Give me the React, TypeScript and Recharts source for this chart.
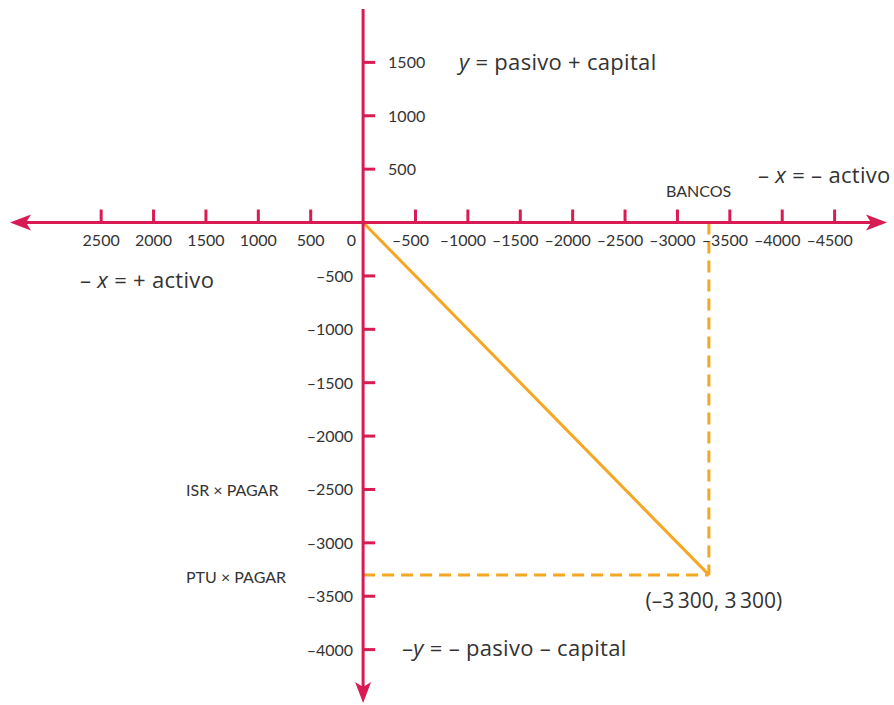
import React from "react";
import { LineChart, Line, XAxis, YAxis, ReferenceLine, ReferenceDot } from "recharts";

// valores del plano
const xTicks = [2500, 2000, 1500, 1000, 500, 0, -500, -1000, -1500, -2000, -2500, -3000, -3500, -4000, -4500];
const yTicks = [1500, 1000, 500, -500, -1000, -1500, -2000, -2500, -3000, -3500, -4000];
const bancosLine = [
  { x: 0, y: 0 },
  { x: -3300, y: -3300 },
];
const pointLabel = "(–3\u2009300, 3\u2009300)";

const AXIS = "#D81B52";
const ORANGE = "#F6A623";
const TEXT = "#333333";
const FONT = "Lato, 'Open Sans', sans-serif";
const BIG = "'Open Sans', Lato, sans-serif";

const W = 894;
const H = 705;

const fmt = (v: number) => (v < 0 ? "–" + Math.abs(v) : String(v));

const corner = bancosLine[bancosLine.length - 1];

function XTick(v: number) {
  return (p: any) => {
    const { cx, cy } = p;
    const isZero = v === 0;
    return (
      <g>
        {!isZero && <line x1={cx} y1={cy} x2={cx} y2={cy - 13} stroke={AXIS} strokeWidth={3} />}
        <text
          x={isZero ? cx - 7 : cx - (v < 0 ? 5 : 0)}
          y={cy + 23}
          textAnchor={isZero ? "end" : "middle"}
          fontSize={16}
          fontFamily={FONT}
          fill={TEXT}
        >
          {fmt(v)}
        </text>
      </g>
    );
  };
}

function YTick(v: number) {
  return (p: any) => {
    const { cx, cy } = p;
    const pos = v > 0;
    return (
      <g>
        <line x1={cx} y1={cy} x2={cx + 12} y2={cy} stroke={AXIS} strokeWidth={3} />
        <text
          x={pos ? cx + 25 : cx - 10}
          y={cy + 6}
          textAnchor={pos ? "start" : "end"}
          fontSize={16}
          fontFamily={FONT}
          fill={TEXT}
        >
          {fmt(v)}
        </text>
      </g>
    );
  };
}

const hAxis = (p: any) => {
  const l = Math.min(p.x1, p.x2);
  const r = Math.max(p.x1, p.x2);
  const y = p.y1;
  return (
    <g>
      <line x1={l + 12} y1={y} x2={r - 12} y2={y} stroke={AXIS} strokeWidth={3} />
      <polygon points={`${l},${y} ${l + 21},${y - 8} ${l + 16},${y} ${l + 21},${y + 8}`} fill={AXIS} />
      <polygon points={`${r},${y} ${r - 21},${y - 8} ${r - 16},${y} ${r - 21},${y + 8}`} fill={AXIS} />
    </g>
  );
};

const vAxis = (p: any) => {
  const t = Math.min(p.y1, p.y2);
  const b = Math.max(p.y1, p.y2);
  const x = p.x1;
  return (
    <g>
      <line x1={x} y1={t} x2={x} y2={b - 12} stroke={AXIS} strokeWidth={3} />
      <polygon points={`${x},${b} ${x - 8},${b - 21} ${x},${b - 16} ${x + 8},${b - 21}`} fill={AXIS} />
    </g>
  );
};

const txt = { fontFamily: FONT, fill: TEXT } as const;
const big = { fontFamily: BIG, fill: TEXT, fontSize: 22, letterSpacing: 0.3 } as const;

export default function App() {
  return (
    <div style={{ position: "absolute", left: 0, top: 0, width: W, height: H, background: "#fff" }}>
      <LineChart width={W} height={H} data={bancosLine} margin={{ top: 9, right: 7, bottom: 2, left: 10 }}>
        <XAxis type="number" dataKey="x" domain={[-5000, 3370]} reversed hide allowDataOverflow />
        <YAxis type="number" domain={[-4500, 2000]} hide allowDataOverflow />
        <ReferenceLine
          segment={[{ x: 0, y: corner.y }, { x: corner.x, y: corner.y }]}
          stroke={ORANGE}
          strokeWidth={3}
          strokeDasharray="12 7"
        />
        <ReferenceLine
          segment={[{ x: corner.x, y: 0 }, { x: corner.x, y: corner.y }]}
          stroke={ORANGE}
          strokeWidth={3}
          strokeDasharray="12 7"
        />
        <Line dataKey="y" stroke={ORANGE} strokeWidth={3} dot={false} isAnimationActive={false} />
        <ReferenceLine y={0} shape={hAxis} />
        <ReferenceLine x={0} shape={vAxis} />
        {xTicks.map((v) => (
          <ReferenceDot key={"x" + v} x={v} y={0} r={0} shape={XTick(v)} />
        ))}
        {yTicks.map((v) => (
          <ReferenceDot key={"y" + v} x={0} y={v} r={0} shape={YTick(v)} />
        ))}
        <ReferenceDot
          x={corner.x}
          y={corner.y}
          r={0}
          shape={(p: any) => (
            <text x={p.cx + 5} y={p.cy + 33} textAnchor="middle" fontSize={21} fontFamily={BIG} fill={TEXT}>
              {pointLabel}
            </text>
          )}
        />
      </LineChart>
      <svg width={W} height={H} style={{ position: "absolute", left: 0, top: 0, pointerEvents: "none" }}>
        <text x={459} y={70} {...big}>
          <tspan fontStyle="italic">y</tspan> = pasivo + capital
        </text>
        <text x={80} y={288} {...big}>
          – <tspan fontStyle="italic">x</tspan> = + activo
        </text>
        <text x={758} y={183} {...big}>
          – <tspan fontStyle="italic">x</tspan> = – activo
        </text>
        <text x={666} y={197} fontSize={16} {...txt}>
          BANCOS
        </text>
        <text x={186} y={496} fontSize={16} {...txt}>
          ISR × PAGAR
        </text>
        <text x={186} y={583} fontSize={16} {...txt}>
          PTU × PAGAR
        </text>
        <text x={402} y={656} {...big}>
          –<tspan fontStyle="italic">y</tspan> = – pasivo – capital
        </text>
      </svg>
    </div>
  );
}
